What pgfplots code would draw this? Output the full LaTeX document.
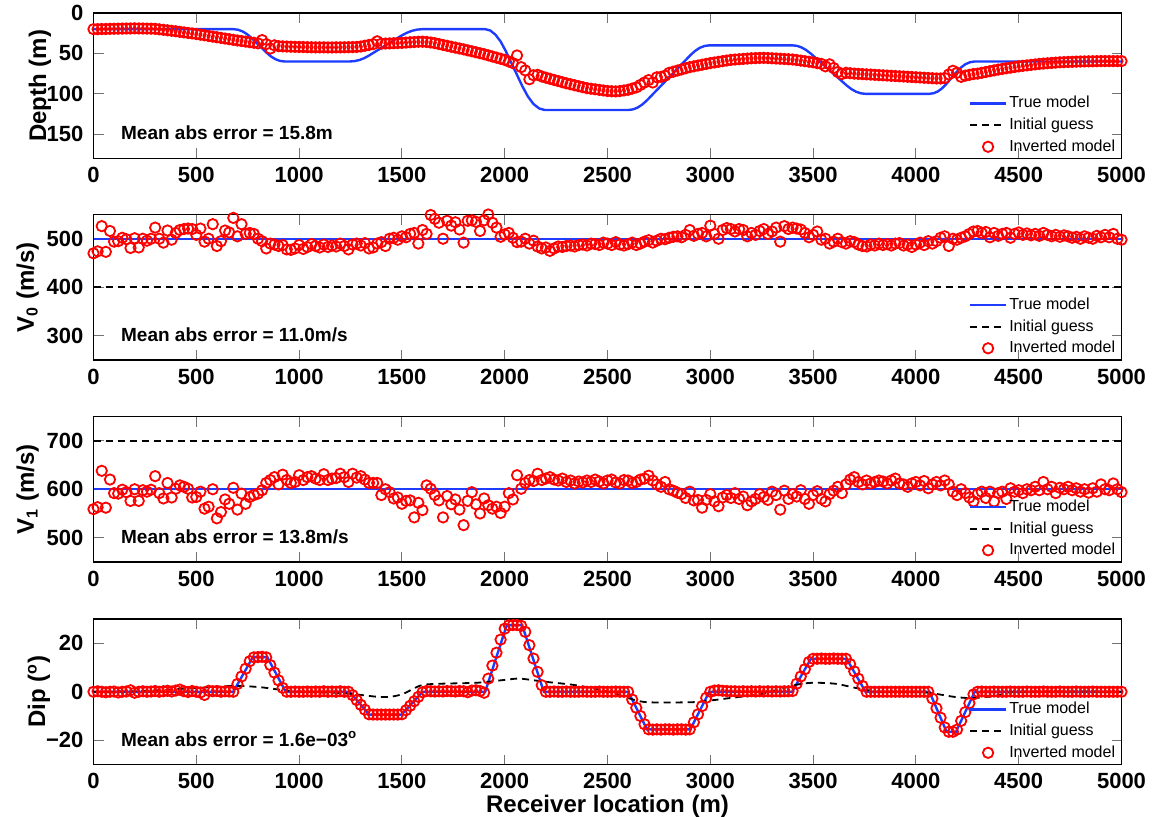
\documentclass[border=0pt]{standalone}
\usepackage{fontspec}
\setmainfont{Liberation Sans}
\usepackage{pgfplots}
\pgfplotsset{compat=1.18}
\usepackage{pgfplotstable}
\definecolor{tblue}{RGB}{30,60,255}
\definecolor{tred}{RGB}{255,0,0}

\pgfplotstableread{
x d v0 v1 dip
0 20.0 470 559 0
20 20.0 474 563 0.2
40 19.8 526 638 0
60 19.8 473 562 -0.2
80 19.6 516 620 0
100 19.5 494 592 0.1
120 19.4 495 591 -0.3
140 19.3 502 599 0
160 19.2 499 594 0.1
180 19.1 481 576 0.6
200 19.0 501 600 -0.4
220 19.1 482 576 0
240 19.2 500 598 0.2
260 19.3 496 595 0
280 19.4 500 599 0.1
300 19.6 523 627 0.3
320 20.2 500 592 0
340 20.8 492 581 0.2
360 21.4 517 613 0.4
380 22.0 498 583 0.1
400 22.6 512 601 0.5
420 23.3 518 608 0.9
440 24.0 520 605 0.2
460 24.7 521 601 -0.1
480 25.3 520 583 0.3
500 26.0 508 584 0
520 26.8 521 595 -0.3
540 27.6 494 560 -1.3
560 28.4 500 564 0.4
580 29.2 530 600 0.2
600 30.0 485 540 0.3
620 30.8 495 553 0
640 31.6 517 579 0.2
660 32.4 513 570 0.1
680 33.2 543 603 0
700 34.0 505 558 3.2
720 34.7 530 591 6.3
740 35.4 510 570 9.5
760 36.1 512 584 12.6
780 36.8 510 588 14.2
800 37.5 500 591 14.3
820 33.5 495 598 14.4
840 38.5 480 613 14.2
860 44.0 490 619 11.0
880 40.0 488 625 7.9
900 41.0 485 610 4.7
920 41.3 487 630 1.6
940 41.5 478 619 0
960 41.7 477 613 0
980 41.9 480 615 0.1
1000 42.0 487 629 0
1020 42.1 479 619 0
1040 42.3 483 625 0.1
1060 42.4 489 627 0
1080 42.5 485 622 0.1
1100 42.5 482 619 0
1120 42.5 488 631 0.2
1140 42.6 483 619 0
1160 42.6 486 622 0.1
1180 42.5 484 623 0
1200 42.5 490 632 0.2
1220 42.4 485 625 0
1240 42.3 478 615 0
1260 42.2 488 632 -1.4
1280 42.0 490 624 -3.4
1300 41.5 486 627 -5.4
1320 40.5 491 620 -7.4
1340 39.5 480 613 -9.3
1360 38.5 482 613 -9.4
1380 35.0 490 613 -9.4
1400 38.0 493 588 -9.4
1420 37.8 485 600 -9.4
1440 37.6 500 594 -9.4
1460 37.4 502 581 -9.4
1480 37.2 498 583 -9.4
1500 37.0 505 570 -9.3
1520 36.6 503 576 -7.6
1540 36.2 510 577 -5.8
1560 35.9 512 542 -3.9
1580 35.6 490 572 -2.1
1600 35.5 518 557 -0.2
1620 35.8 510 608 0.3
1640 36.5 549 601 0.2
1660 37.3 541 588 0.1
1680 38.4 533 577 0.2
1700 39.5 500 542 0.1
1720 40.6 537 586 0.3
1740 41.7 527 569 0.2
1760 42.8 534 579 0.1
1780 43.9 519 558 0.3
1800 45.0 492 526 0.2
1820 46.2 537 576 -0.2
1840 47.4 538 594 0.5
1860 48.6 535 569 0.6
1880 49.8 516 550 0.3
1900 51.0 538 581 -0.4
1920 52.4 550 567 5.4
1940 53.8 533 560 10.8
1960 55.2 523 564 16.1
1980 56.6 504 551 21.5
2000 58.0 509 564 26.0
2020 60.0 512 592 27.4
2040 62.0 502 579 27.5
2060 52.5 493 629 27.5
2080 67.0 494 601 27.2
2100 71.0 500 613 24.7
2120 82.0 490 619 19.2
2140 77.0 496 617 13.7
2160 76.5 484 632 8.2
2180 78.5 480 619 2.7
2200 80.0 482 622 0
2220 81.4 475 625 0
2240 82.8 480 620 0.1
2260 84.2 484 618 0
2280 85.6 483 622 0
2300 87.0 485 615 0.1
2320 88.2 486 618 0
2340 89.4 484 612 0
2360 90.6 487 616 0
2380 91.8 488 614 0.1
2400 93.0 486 618 0
2420 93.7 490 615 0
2440 94.4 489 620 0
2460 95.1 487 616 0.1
2480 95.8 492 612 0
2500 96.5 490 618 0
2520 96.8 487 620 0
2540 97.0 493 614 0.1
2560 96.6 488 612 0
2580 95.8 486 619 0
2600 95.0 489 618 0
2620 93.5 492 613 -3.2
2640 92.0 487 615 -6.6
2660 89.0 490 620 -10.0
2680 86.0 494 622 -13.4
2700 83.0 497 628 -15.5
2720 86.0 492 618 -15.6
2740 79.5 496 610 -15.5
2760 79.0 500 605 -15.6
2780 77.5 499 615 -15.5
2800 74.0 502 600 -15.5
2820 72.6 504 597 -15.6
2840 71.2 505 593 -15.5
2860 69.8 503 590 -15.5
2880 68.4 508 582 -15.6
2900 67.0 518 595 -15.5
2920 66.0 506 577 -12.6
2940 65.0 510 578 -9.3
2960 64.0 512 562 -5.9
2980 63.0 505 578 -2.5
3000 62.0 527 590 0
3020 61.2 510 575 0.5
3040 60.4 500 565 0.6
3060 59.6 518 583 0.4
3080 58.8 522 588 0.3
3100 58.0 520 582 0.2
3120 57.6 515 592 0.2
3140 57.2 520 580 0.1
3160 56.8 518 585 0.2
3180 56.4 505 567 0.1
3200 56.0 512 575 0.2
3220 55.8 508 580 0.1
3240 55.6 516 590 0.2
3260 55.5 520 584 0.1
3280 55.7 510 578 0.2
3300 56.0 515 595 0.1
3320 56.3 523 588 0.2
3340 56.6 494 558 0.1
3360 56.9 526 597 0.2
3380 57.2 520 580 0.2
3400 57.5 523 590 0.3
3420 58.2 521 585 3.3
3440 58.9 519 598 6.3
3460 59.6 512 580 9.3
3480 60.3 503 570 12.3
3500 61.0 508 588 13.6
3520 62.0 515 596 13.6
3540 63.0 498 580 13.7
3560 66.0 500 575 13.6
3580 63.5 490 590 13.6
3600 68.0 494 597 13.7
3620 73.0 500 605 13.6
3640 75.5 493 592 13.6
3660 74.0 490 610 13.6
3680 74.5 495 620 11.4
3700 75.0 493 625 8.4
3720 75.3 488 615 5.4
3740 75.6 485 610 2.4
3760 75.9 484 618 0
3780 76.2 488 612 0
3800 76.5 486 615 0
3820 76.8 490 618 0
3840 77.1 487 616 0
3860 77.4 489 612 0
3880 77.7 486 618 0
3900 78.0 490 622 0
3920 78.3 491 612 0
3940 78.6 486 610 0
3960 78.9 488 605 0
3980 79.2 483 612 0
4000 79.5 488 615 0
4020 79.8 492 608 0
4040 80.1 487 617 0
4060 80.4 495 602 0
4080 80.7 490 610 -2.8
4100 81.0 495 615 -6.8
4120 81.0 502 608 -10.7
4140 80.5 505 618 -14.7
4160 76.0 485 610 -16.5
4180 71.5 500 595 -16.5
4200 74.0 498 588 -15.6
4220 79.0 502 600 -12.0
4240 77.5 505 592 -8.4
4260 76.5 510 583 -4.7
4280 75.5 515 575 -1.1
4300 75.0 516 590 0
4320 74.0 512 595 0.1
4340 73.0 514 582 0
4360 72.0 503 595 0
4380 71.0 512 575 0.1
4400 70.0 506 592 0
4420 69.2 510 595 0
4440 68.4 512 580 0
4460 67.6 502 602 0.1
4480 66.8 510 595 0
4500 66.0 513 598 0
4520 65.4 508 592 0
4540 64.8 511 600 0.1
4560 64.2 507 598 0
4580 63.6 510 605 0
4600 63.0 506 598 0
4620 62.6 512 615 0.1
4640 62.2 508 600 0
4660 61.8 505 605 0
4680 61.4 508 592 0
4700 61.0 504 603 0.1
4720 60.8 507 600 0
4740 60.6 505 605 0
4760 60.4 502 598 0
4780 60.2 504 602 0.1
4800 60.0 500 595 0
4820 59.9 505 600 0
4840 59.8 502 593 0
4860 59.7 500 602 0.1
4880 59.6 506 595 0
4900 59.5 503 610 0
4920 59.5 508 600 0
4940 59.5 503 598 0
4960 59.5 510 612 0
4980 59.5 500 600 0
5000 59.5 498 594 0
}\inv

\pgfplotstableread{
x d
0 20
680 20
702.5 20.7
725 22.8
747.5 26.3
770 31.2
840 48.7
862.5 53.6
885 57.2
907.5 59.3
930 60
1246 60
1269.5 59.5
1293 58.2
1316.5 55.9
1340 52.6
1498 28.0
1524 24.5
1549.5 22.0
1575 20.5
1601 20
1905 20
1930 21.7
1955 26.8
1980 35.2
2005 47.0
2085 90.2
2112.5 103.2
2140 112.6
2167.5 118.1
2195 120
2601 120
2624 119.25
2646.5 117.0
2669 113.25
2692 108.0
2903 52.2
2926 46.9
2949 43.05
2972 40.8
2995 40
3398 40
3421 40.6
3443.5 42.6
3466 45.8
3489 50.3
3663 89.6
3686 94.15
3709 97.4
3732 99.35
3755 100
4066 100
4087 99.2
4107.5 96.9
4128 93.0
4149 87.5
4195 73.7
4218 67.7
4240.5 63.4
4263 60.9
4286 60
5000 60
}\truedepth

\pgfplotstableread{
x dip
0 0
680 0
775 14.3
845 14.3
935 0
1246 0
1340 -9.4
1498 -9.4
1601 0
1905 0
2010 27.5
2085 27.5
2190 0
2601 0
2692 -15.5
2903 -15.5
2995 0
3398 0
3489 13.6
3663 13.6
3755 0
4066 0
4149 -16.5
4195 -16.5
4286 0
5000 0
}\truedip

\pgfplotstableread{
x dip
0 0
200 0.2
472 1.4
681 2.4
808 1.9
920 0.7
1013 0
1218 -0.6
1405 -2.2
1498 -1.1
1592 2.6
1685 3.3
1872 3.75
2021 5.1
2077 5.4
2189 4.2
2338 2.8
2450 1.0
2530 -0.5
2601 -2.6
2692 -4.3
2912 -4.3
3000 -3.6
3095 -2.6
3242 -1.0
3352 1.4
3425 3.0
3498 3.7
3608 3.3
3718 1.4
3828 0
4000 0
4085 -0.7
4195 -2.2
4286 -2.6
4400 -1.5
4500 0
5000 0
}\initdip

\pgfplotsset{
  panel/.style={
    scale only axis, width=514pt, height=72.75pt,
    xmin=0, xmax=5000, xtick={0,500,...,5000},
    scaled ticks=false,
    /pgf/number format/1000 sep={},
    /pgf/number format/assume math mode=true,
    tick align=inside, major tick length=5pt,
    major tick style={draw=black!55, line width=0.5pt},
    axis line style={line width=0.6pt},
    tick label style={font=\fontsize{11}{13}\selectfont\bfseries},
    xticklabel style={yshift=-1pt},
    yticklabel style={xshift=-1.5pt},
    ylabel style={anchor=center, font=\fontsize{12}{14}\selectfont\bfseries},
    clip mode=individual,
    legend style={draw=none, fill=none, at={(1,0)}, anchor=south east, xshift=-2pt, yshift=1pt,
      font=\fontsize{8}{9}\selectfont, inner sep=0pt, row sep=1.5pt, nodes={inner sep=1pt}},
    legend cell align=left,
    legend image code/.code={\draw[mark repeat=2,mark phase=2,##1] plot coordinates {(0pt,0pt) (9pt,0pt) (18pt,0pt)};},
  },
  trueline/.style={tblue, line width=1.2pt},
  initline/.style={black, line width=0.9pt, dash pattern=on 3.5pt off 2.5pt},
  invmark/.style={only marks, mark=o, tred, mark size=2.6pt, line width=0.9pt},
}
\newcommand{\errtext}[1]{\node[anchor=west, font=\fontsize{9.5}{11}\selectfont\bfseries] at (axis description cs:0.02,0.175) {#1};}

\begin{document}
\begin{tikzpicture}
% Panel 1: depth
\begin{axis}[panel, at={(46.75pt,-79.25pt)}, anchor=south west,
  ymin=0, ymax=180, y dir=reverse, ytick={0,50,100,150}, ylabel={Depth (m)},
  ylabel style={at={(axis description cs:-0.052,0.5)}}]
\addplot[trueline] table[x=x,y=d]{\truedepth};
\addlegendentry{True model}
\addlegendimage{initline}
\addlegendentry{Initial guess}
\addplot[invmark] table[x=x,y=d]{\inv};
\addlegendentry{Inverted model}
\errtext{Mean abs error = 15.8m}
\end{axis}
% Panel 2: V0
\begin{axis}[panel, at={(46.75pt,-180pt)}, anchor=south west,
  ymin=250, ymax=550, ytick={300,400,500}, ylabel={V\textsubscript{0} (m/s)},
  ylabel style={at={(axis description cs:-0.064,0.5)}}]
\addplot[trueline] coordinates {(0,500) (5000,500)};
\addlegendentry{True model}
\addplot[initline] coordinates {(0,400) (5000,400)};
\addlegendentry{Initial guess}
\addplot[invmark] table[x=x,y=v0]{\inv};
\addlegendentry{Inverted model}
\errtext{Mean abs error = 11.0m/s}
\end{axis}
% Panel 3: V1
\begin{axis}[panel, at={(46.75pt,-281pt)}, anchor=south west,
  ymin=450, ymax=750, ytick={500,600,700}, ylabel={V\textsubscript{1} (m/s)},
  ylabel style={at={(axis description cs:-0.064,0.5)}}]
\addplot[trueline] coordinates {(0,600) (5000,600)};
\addlegendentry{True model}
\addplot[initline] coordinates {(0,700) (5000,700)};
\addlegendentry{Initial guess}
\addplot[invmark] table[x=x,y=v1]{\inv};
\addlegendentry{Inverted model}
\errtext{Mean abs error = 13.8m/s}
\end{axis}
% Panel 4: dip
\begin{axis}[panel, at={(46.75pt,-382.25pt)}, anchor=south west,
  ymin=-30, ymax=30, ytick={-20,0,20}, yticklabels={−20,0,20},
  ylabel={Dip (\textsuperscript{o})},
  ylabel style={at={(axis description cs:-0.053,0.5)}},
  xlabel={Receiver location (m)},
  xlabel style={at={(axis description cs:0.5,-0.285)}, anchor=center, font=\fontsize{12}{14}\selectfont\bfseries}]
\addplot[trueline] table[x=x,y=dip]{\truedip};
\addlegendentry{True model}
\addplot[initline, smooth] table[x=x,y=dip]{\initdip};
\addlegendentry{Initial guess}
\addplot[invmark] table[x=x,y=dip]{\inv};
\addlegendentry{Inverted model}
\errtext{Mean abs error = 1.6e−03\textsuperscript{o}}
\end{axis}
\pgfresetboundingbox
\path[use as bounding box] (0pt,0pt) rectangle (585pt,-408.5pt);
\end{tikzpicture}
\end{document}
